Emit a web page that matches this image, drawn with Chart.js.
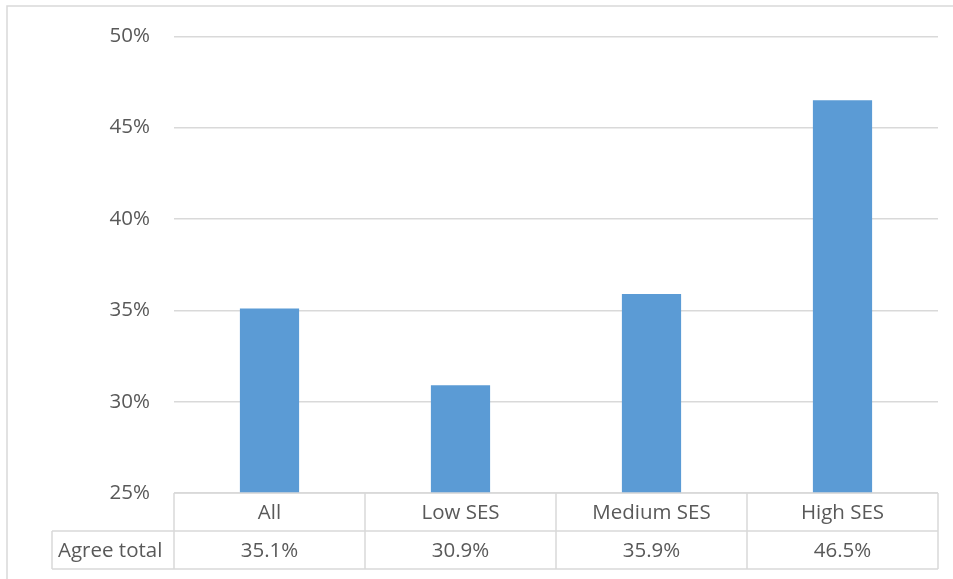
<!DOCTYPE html>
<html>
<head>
<meta charset="utf-8">
<script src="https://cdn.jsdelivr.net/npm/chart.js@4.4.1/dist/chart.umd.min.js"></script>
<style>
  html, body { margin: 0; padding: 0; background: #ffffff; }
  #wrap { width: 953px; height: 579px; position: relative; }
</style>
</head>
<body>
<div id="wrap"><canvas id="c" width="953" height="579"></canvas></div>
<script>
// Share of respondents agreeing, by socio-economic status
const categories = ['All', 'Low SES', 'Medium SES', 'High SES'];
const agreeTotal = [35.1, 30.9, 35.9, 46.5];
const seriesName = 'Agree total';
const yTicks = [25, 30, 35, 40, 45, 50];

const FONT = '"Open Sans", Lato, sans-serif';
const FONT_SIZE = 20.5;
const LINE = '#d9d9d9';
const TEXT = '#595959';

// Frame around the chart and the data table underneath the plot
const tablePlugin = {
  id: 'dataTable',
  beforeDraw(chart) {
    const ctx = chart.ctx;
    ctx.save();
    ctx.strokeStyle = LINE;
    ctx.lineWidth = 1.5;
    ctx.beginPath();
    ctx.moveTo(7, 579);
    ctx.lineTo(7, 6);
    ctx.lineTo(953, 6);
    ctx.stroke();
    ctx.restore();
  },
  afterDraw(chart) {
    const ctx = chart.ctx;
    const area = chart.chartArea;
    const x = chart.scales.x;
    const n = categories.length;
    const colW = (area.right - area.left) / n;
    const rowH = 38;
    const top = area.bottom;
    const mid = top + rowH;
    const bot = mid + rowH;
    const headLeft = 52;

    ctx.save();
    ctx.strokeStyle = LINE;
    ctx.lineWidth = 1.5;
    ctx.beginPath();
    // horizontal rules
    ctx.moveTo(area.left, top); ctx.lineTo(area.right, top);
    ctx.moveTo(headLeft, mid); ctx.lineTo(area.right, mid);
    ctx.moveTo(headLeft, bot); ctx.lineTo(area.right, bot);
    // series name cell
    ctx.moveTo(headLeft, mid); ctx.lineTo(headLeft, bot);
    // column separators
    for (let i = 0; i <= n; i++) {
      const xx = area.left + i * colW;
      ctx.moveTo(xx, top); ctx.lineTo(xx, bot);
    }
    ctx.stroke();

    ctx.fillStyle = TEXT;
    ctx.font = FONT_SIZE + 'px ' + FONT;
    ctx.textBaseline = 'middle';
    ctx.textAlign = 'center';
    categories.forEach((c, i) => {
      const cx = x.getPixelForValue(i);
      ctx.fillText(c, cx, top + rowH / 2 + 1);
      ctx.fillText(agreeTotal[i].toFixed(1) + '%', cx, mid + rowH / 2 + 1);
    });
    ctx.textAlign = 'left';
    ctx.fillText(seriesName, headLeft + 6, mid + rowH / 2 + 1);
    ctx.restore();
  }
};

new Chart(document.getElementById('c'), {
  type: 'bar',
  data: {
    labels: categories,
    datasets: [{
      label: seriesName,
      data: agreeTotal,
      backgroundColor: '#5b9bd5',
      borderWidth: 0,
      barPercentage: 0.31,
      categoryPercentage: 1.0
    }]
  },
  options: {
    responsive: false,
    animation: false,
    devicePixelRatio: 1,
    layout: { padding: { left: 0, top: 36, right: 15, bottom: 86 } },
    plugins: {
      legend: { display: false },
      tooltip: { enabled: false },
      title: { display: false }
    },
    scales: {
      x: {
        type: 'category',
        display: false,
        offset: true
      },
      y: {
        min: 25,
        max: 50,
        afterFit(scale) { scale.width = 174; },
        afterBuildTicks(scale) { scale.ticks = yTicks.map(v => ({ value: v })); },
        border: { display: false },
        grid: { color: LINE, lineWidth: 1.5, drawTicks: false },
        ticks: {
          padding: 24,
          color: TEXT,
          font: { family: FONT, size: FONT_SIZE },
          callback: v => v + '%'
        }
      }
    }
  },
  plugins: [tablePlugin]
});
</script>
</body>
</html>
